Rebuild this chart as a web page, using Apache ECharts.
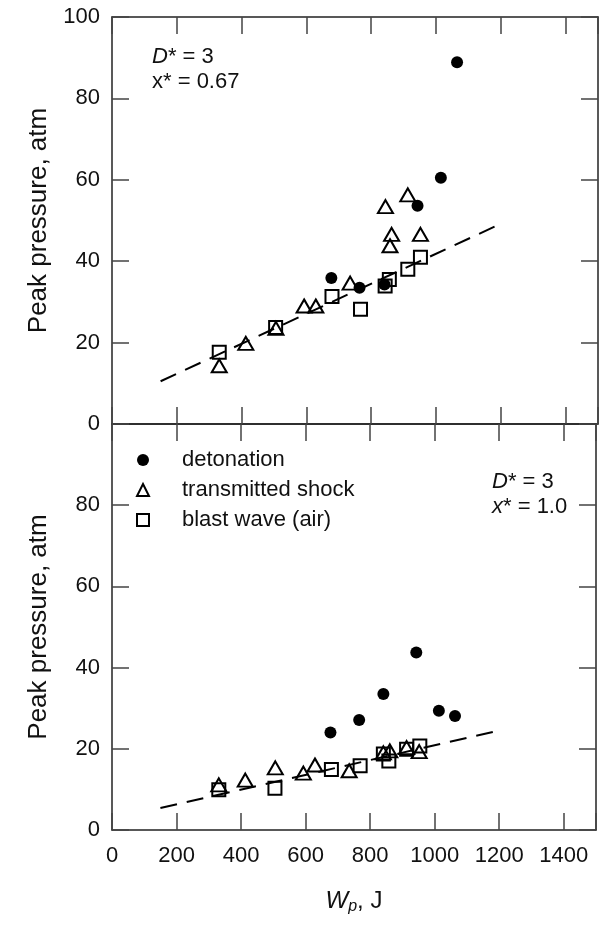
<!DOCTYPE html>
<html>
<head>
<meta charset="utf-8">
<script src="https://cdn.jsdelivr.net/npm/echarts@6/dist/echarts.min.js"></script>
<style>html,body{margin:0;padding:0;background:#fff;}#c{width:599px;height:932px;}</style>
</head>
<body>
<div id="c"></div>
<script>
// ---- data (Wp in J, peak pressure in atm) ----
const seriesNames = ['detonation', 'transmitted shock', 'blast wave (air)'];
const topDetonation = [[677,35.9],[764,33.5],[841,34.3],[943,53.6],[1015,60.5],[1065,88.9]];
const topShock = [[331,14.3],[413,19.8],[506,23.5],[593,29.0],[629,29.0],[735,34.6],[844,53.4],[858,43.8],[863,46.6],[913,56.3],[952,46.6]];
const topBlast = [[331,17.6],[505,23.7],[679,31.3],[767,28.2],[843,33.9],[856,35.5],[913,38.0],[952,41.0]];
const topFit = [[150,10.5],[1200,49.2]];
const botDetonation = [[677,24.0],[766,27.1],[841,33.5],[943,43.7],[1013,29.4],[1063,28.1]];
const botShock = [[331,11.1],[413,12.3],[506,15.3],[593,14.0],[629,16.0],[735,14.6],[841,19.0],[861,19.5],[913,20.3],[952,19.3]];
const botBlast = [[331,9.9],[505,10.3],[680,14.9],[769,15.8],[841,18.7],[858,17.0],[913,19.9],[954,20.7]];
const botFit = [[150,5.4],[1200,24.5]];
const xRange = [0, 1500, 200];
const yRange = [0, 100, 20];

const FONT = '"Liberation Sans", Arial, Helvetica, sans-serif';
const lineCol = '#222';
const tickCol = '#444';

function xAx(grid, pos, labels) {
  return {
    type: 'value', gridIndex: grid, position: pos,
    min: xRange[0], max: xRange[1], interval: xRange[2],
    axisLine: { show: true, onZero: false, lineStyle: { color: lineCol, width: 1.5 } },
    axisTick: { show: true, inside: true, length: 17, lineStyle: { color: tickCol, width: 1.5 } },
    splitLine: { show: false },
    axisLabel: { show: labels, margin: 15, fontSize: 22, fontFamily: FONT, color: '#111',
      formatter: v => (v === 1500 ? '' : String(v)) }
  };
}
function yAx(grid, pos, labels, hideMax) {
  return {
    type: 'value', gridIndex: grid, position: pos,
    min: yRange[0], max: yRange[1], interval: yRange[2],
    axisLine: { show: true, onZero: false, lineStyle: { color: lineCol, width: 1.5 } },
    axisTick: { show: true, inside: true, length: 17, lineStyle: { color: tickCol, width: 1.5 } },
    splitLine: { show: false },
    axisLabel: { show: labels, margin: 12, fontSize: 22, fontFamily: FONT, color: '#111',
      formatter: v => (hideMax && v === 100 ? '' : String(v)) }
  };
}

const xAxes = [xAx(0, 'bottom', false), xAx(0, 'top', false), xAx(1, 'bottom', true), xAx(1, 'top', false)];
xAxes[2].name = '{w|W}{p|p}{n|, J}';
xAxes[2].nameLocation = 'middle';
xAxes[2].nameGap = 57;
xAxes[2].nameTextStyle = {
  fontSize: 24, fontFamily: FONT, color: '#111',
  rich: {
    w: { fontSize: 24, fontStyle: 'italic', fontFamily: FONT, color: '#111' },
    p: { fontSize: 16, fontStyle: 'italic', fontFamily: FONT, color: '#111', padding: [12, 0, 0, 0] },
    n: { fontSize: 24, fontFamily: FONT, color: '#111' }
  }
};
const yAxes = [yAx(0, 'left', true, false), yAx(0, 'right', false, false), yAx(1, 'left', true, true), yAx(1, 'right', false, false)];
[0, 2].forEach(i => {
  yAxes[i].name = 'Peak pressure, atm';
  yAxes[i].nameLocation = 'middle';
  yAxes[i].nameGap = 60;
  yAxes[i].nameTextStyle = { fontSize: 26, fontFamily: FONT, color: '#111' };
});

function scat(name, data, panel, kind) {
  const base = { name, type: 'scatter', data, xAxisIndex: panel * 2, yAxisIndex: panel * 2, silent: true, z: 3 };
  if (kind === 0) {
    base.symbol = 'circle'; base.symbolSize = 12;
    base.itemStyle = { color: '#000', opacity: 1 };
  } else if (kind === 1) {
    base.symbol = 'triangle'; base.symbolSize = [15, 13];
    base.itemStyle = { color: 'rgba(255,255,255,0)', borderColor: '#000', borderWidth: 2, opacity: 1 };
  } else {
    base.symbol = 'rect'; base.symbolSize = 13;
    base.itemStyle = { color: 'rgba(255,255,255,0)', borderColor: '#000', borderWidth: 2, opacity: 1 };
  }
  return base;
}
function fit(data, panel) {
  return { name: 'fit' + panel, type: 'line', data, xAxisIndex: panel * 2, yAxisIndex: panel * 2,
    symbol: 'none', silent: true, z: 2,
    lineStyle: { color: '#000', width: 2, type: [17, 10] } };
}

const richAnn = {
  i: { fontSize: 22, fontStyle: 'italic', fontFamily: FONT, fill: '#111' },
  n: { fontSize: 22, fontFamily: FONT, fill: '#111' }
};
function ann(x, y, text) {
  return { type: 'text', x, y, silent: true, z: 10,
    style: { text, rich: richAnn, fontSize: 22, fontFamily: FONT, fill: '#111', verticalAlign: 'middle', align: 'left' } };
}

const option = {
  animation: false,
  backgroundColor: '#fff',
  grid: [
    { left: 112, top: 17, width: 486, height: 407 },
    { left: 112, top: 424, width: 486, height: 406 }
  ],
  xAxis: xAxes,
  yAxis: yAxes,
  legend: {
    data: seriesNames, orient: 'vertical', left: 131, top: 444,
    itemWidth: 12, itemHeight: 12, itemGap: 8, selectedMode: false,
    textStyle: { fontSize: 22, fontFamily: FONT, color: '#111', lineHeight: 22, padding: [0, 0, 0, 28] }
  },
  graphic: [
    ann(152, 57, '{i|D}{n|* = 3}'),
    ann(152, 82, '{n|x* = 0.67}'),
    ann(492, 482, '{i|D}{n|* = 3}'),
    ann(492, 507, '{i|x}{n|* = 1.0}')
  ],
  series: [
    fit(topFit, 0), fit(botFit, 1),
    scat(seriesNames[0], topDetonation, 0, 0),
    scat(seriesNames[1], topShock, 0, 1),
    scat(seriesNames[2], topBlast, 0, 2),
    scat(seriesNames[0], botDetonation, 1, 0),
    scat(seriesNames[1], botShock, 1, 1),
    scat(seriesNames[2], botBlast, 1, 2)
  ]
};
const chart = echarts.init(document.getElementById('c'), null, { renderer: 'canvas' });
chart.setOption(option);
</script>
</body>
</html>
